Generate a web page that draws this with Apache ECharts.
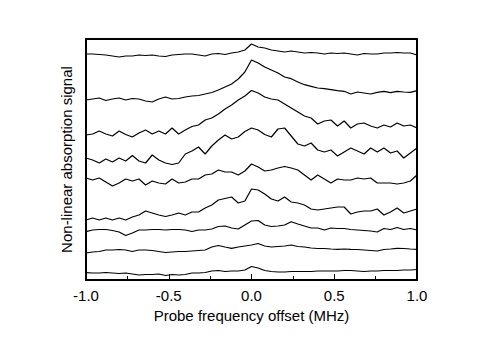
<!DOCTYPE html>
<html>
<head>
<meta charset="utf-8">
<style>
  html, body { margin: 0; padding: 0; background: #fff; }
  #chart { width: 485px; height: 337px; }
</style>
<script src="https://cdn.jsdelivr.net/npm/echarts@6/dist/echarts.min.js"></script>
</head>
<body>
<div id="chart"></div>
<script>
// probe offsets, -1.0 .. 1.0 MHz in steps of 0.04
var offsets = [];
for (var i = 0; i <= 50; i++) offsets.push(+(-1 + i * 0.04).toFixed(2));

var xTicks = ['-1.0', '-0.5', '0.0', '0.5', '1.0'];

// traces, top to bottom (arbitrary units, stacked)
var trace1 = [226,226,225.5,225,224,223,224,224,225,224.5,225,224,223.5,225,225.5,226,226,225,224,226,226.5,225.5,227,228,230,236,233,232,230,229,228,229,228,227,227.5,227,226,227,226.5,227,226,225,226.5,226,226,227,227,227.5,227,227,225];
var trace2 = [180,181,182,179.5,181,182,180,181.5,181,179,178,181,183,181,181.5,183,184,184.5,186,187.5,190,193,196,201,208,220,217,213,210,207,203,201.3,198,195.3,193.7,192,191.3,190.3,189.3,188.7,186,188,187,186,187.7,188.7,187.3,188.7,188,187.7,189.3];
var trace3 = [145,146,149,146,144,149,145.5,143,147,150,146,149,146,152,146,150,153.5,155,160,162,166,171,175,180,184,189.5,187,183,181,180,176,172,168,164,162,156,159,160,154,159,152,156,157,154,152,155,153,157,154,155,152];
var trace4 = [122,120,117,121,118,122,119,124.5,119,117,125,120,117,115.5,117,126,129,133,126,134,140,145,141,143,148.5,152,150,145.5,143,151,152,144,136,134,137,130,128,130,124,128,132,129,126,132,128,132,127,129,122,127,132];
var trace5 = [102,100,102,98,94,97,101,99,101,95,99,97,96,101,97,98,101,101,105,106,110,108,108,105,109,116,113,109,110,112,113.5,112,110,105,100,105,101,97,101,100,100,102,101,102,97,97,97,96,97,99,105];
var trace6 = [60,62,60,62,60,62,60,63,65,69,67,65,63.5,65,67,65,68,68,72,75,80,81.5,83,77,79,91,90,86,81,79,83,78,77,75,71,70,71,72,73,73,66,68,69,69,71,65,68,72,67,69,71];
var trace7 = [48.3,50,50.5,50.5,49.5,48,44.5,47,50,50,50.5,50.5,50,50.5,50.5,50,48.5,50,50,51,53.5,54,52,51,55,59,59.5,55,53.5,54,55,58.3,56,54,52,52,50,52,51.5,51.5,50.5,50,49.5,49,48,51.5,50.5,52.5,50.5,51.5,50];
var trace8 = [27,28,28.5,30,30,30.5,30,28.5,30,30,29.5,28.5,27.5,28,28.5,28.5,29,29.5,30,33,34.5,33,31.7,33,34,35,36.5,34,33,33.5,34,35,33.5,33,32,31.5,31.5,31,30.7,31,30.7,30.5,30,29.5,29,30.5,31,31.7,31.5,31,30.7];
var trace9 = [7.3,7,7,7.5,7,6.5,7,6,5,5.5,5.5,6,4.5,5.5,5,5.5,7,7,7.5,9,9.5,8.5,9,9,10,13.5,12,9.5,8.5,8,8,8.5,8.5,8.5,8.5,9,9,9,9,9.5,9.5,9,8.5,9,9,9.5,9.5,9.5,10,10,10.5];

var traces = [trace1, trace2, trace3, trace4, trace5, trace6, trace7, trace8, trace9];

var font = 'Liberation Sans';
var chart = echarts.init(document.getElementById('chart'), null, { renderer: 'svg' });

chart.setOption({
  animation: false,
  grid: {
    left: 86, right: 68, top: 39, bottom: 57,
    show: true, borderColor: '#000', borderWidth: 2, backgroundColor: 'transparent'
  },
  xAxis: {
    type: 'value',
    min: -1, max: 1, interval: 0.5,
    name: 'Probe frequency offset (MHz)',
    nameLocation: 'middle',
    nameGap: 24,
    nameTextStyle: { color: '#000', fontFamily: font, fontSize: 15 },
    axisLine: { show: true, onZero: false, lineStyle: { color: '#000', width: 2 } },
    axisTick: { show: true, inside: true, length: 6, lineStyle: { color: '#000', width: 1 } },
    minorTick: { show: true, splitNumber: 2, length: 4, lineStyle: { color: '#000', width: 1 } },
    axisLabel: {
      color: '#000', fontFamily: font, fontSize: 15, margin: 8,
      formatter: function(v) { return xTicks[Math.round((v + 1) / 0.5)]; }
    },
    splitLine: { show: false }
  },
  yAxis: {
    type: 'value',
    min: 0, max: 241,
    name: 'Non-linear absorption signal',
    nameLocation: 'middle',
    nameGap: 12,
    nameTextStyle: { color: '#000', fontFamily: font, fontSize: 15 },
    axisLine: { show: true, onZero: false, lineStyle: { color: '#000', width: 2 } },
    axisTick: { show: false },
    axisLabel: { show: false },
    splitLine: { show: false }
  },
  series: traces.map(function(t, k) {
    return {
      name: 'trace' + (k + 1),
      type: 'line',
      data: t.map(function(v, j) { return [offsets[j], v]; }),
      showSymbol: false,
      lineStyle: { color: '#000', width: 1.2 },
      silent: true
    };
  })
});
</script>
</body>
</html>
